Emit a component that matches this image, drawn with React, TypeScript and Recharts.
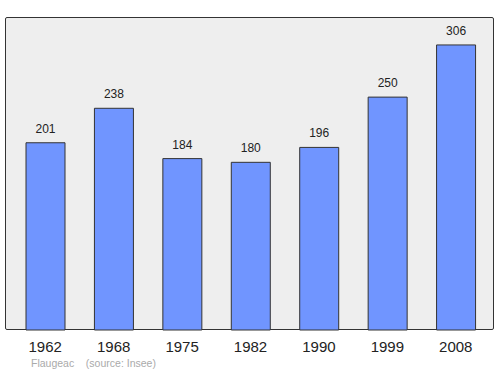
import { BarChart, Bar, XAxis, YAxis, LabelList } from "recharts"

const years = ["1962", "1968", "1975", "1982", "1990", "1999", "2008"]
const population = [201, 238, 184, 180, 196, 250, 306]

const data = years.map((year, i) => ({ year, value: population[i] }))

const font = "'Liberation Sans', Arial, sans-serif"

export default function App() {
  return (
    <div style={{ position: "absolute", left: 0, top: 0, width: 500, height: 374, background: "#fff", fontFamily: font }}>
      {/* plot frame */}
      <div
        style={{
          position: "absolute",
          left: 5,
          top: 17,
          width: 487,
          height: 311,
          background: "#eeeeee",
          border: "1px solid #333",
          borderRadius: 2,
        }}
      />
      <div style={{ position: "absolute", left: 0, top: 0 }}>
        <BarChart width={500} height={374} data={data} margin={{ top: 17, right: 10, bottom: 0, left: 11 }}>
          <XAxis
            dataKey="year"
            height={44}
            axisLine={false}
            tickLine={false}
            tickSize={0}
            tickMargin={11}
            tick={{ fontSize: 15, fill: "#222", fontFamily: font }}
            interval={0}
          />
          <YAxis hide domain={[0, 336]} />
          <Bar dataKey="value" fill="#7095ff" stroke="#333" strokeWidth={1} barSize={39} isAnimationActive={false}>
            <LabelList dataKey="value" position="top" offset={10} style={{ fontSize: 12, fill: "#222", fontFamily: font }} />
          </Bar>
        </BarChart>
      </div>
      <div style={{ position: "absolute", left: 31, top: 357, fontSize: 10.5, color: "#aaa", whiteSpace: "pre" }}>
        {"Flaugeac    (source: Insee)"}
      </div>
    </div>
  )
}
